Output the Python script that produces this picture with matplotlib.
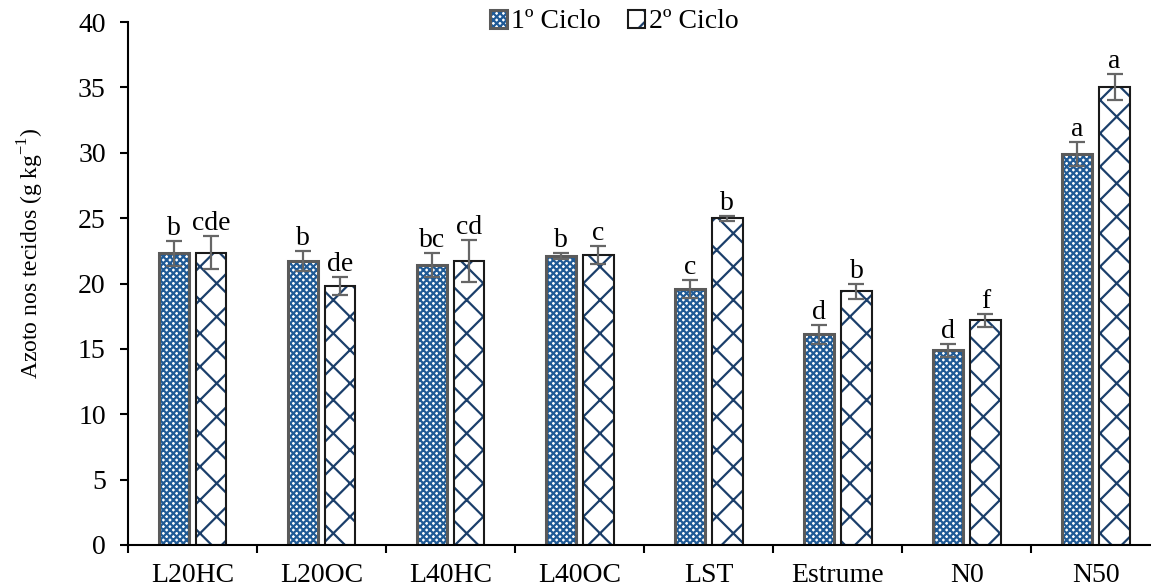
import numpy as np
import matplotlib.pyplot as plt
import matplotlib as mpl

# data
categories = ['L20HC', 'L20OC', 'L40HC', 'L40OC', 'LST', 'Estrume', 'N0', 'N50']
ciclo1 = [22.3, 21.7, 21.4, 22.1, 19.6, 16.1, 14.9, 29.9]
ciclo1_err = [0.95, 0.75, 0.9, 0.2, 0.7, 0.75, 0.5, 0.9]
ciclo2 = [22.35, 19.8, 21.7, 22.2, 25.0, 19.4, 17.2, 35.0]
ciclo2_err = [1.25, 0.7, 1.6, 0.7, 0.2, 0.6, 0.5, 1.0]
letras1 = ['b', 'b', 'bc', 'b', 'c', 'd', 'd', 'a']
letras2 = ['cde', 'de', 'cd', 'c', 'b', 'b', 'f', 'a']

plt.rcParams['font.family'] = ['Liberation Serif', 'DejaVu Serif']
plt.rcParams['mathtext.fontset'] = 'custom'
plt.rcParams['mathtext.rm'] = 'Liberation Serif'
plt.rcParams['hatch.linewidth'] = 1.6

fig = plt.figure(figsize=(11.51, 5.88), dpi=100)
ax = fig.add_axes([128/1151, 43/588, 1022/1151, 523/588])

x = np.arange(len(categories))
w = 0.235
off = 0.145

b1 = ax.bar(x - off, ciclo1, w, facecolor='white', edgecolor='#5a5a5a',
            linewidth=2.2, hatch='xxxxx', label='1º Ciclo', zorder=2)
for p in b1:
    p._hatch_color = mpl.colors.to_rgba('#1f5a96')
b2 = ax.bar(x + off, ciclo2, w, facecolor='white', edgecolor='#1a1a1a',
            linewidth=1.5, hatch='x', label='2º Ciclo', zorder=2)
for p in b2:
    p._hatch_color = mpl.colors.to_rgba('#1b3f6b')

ax.errorbar(x - off, ciclo1, yerr=ciclo1_err, fmt='none', ecolor='#666666',
            elinewidth=1.6, capsize=6, capthick=1.6, zorder=3)
ax.errorbar(x + off, ciclo2, yerr=ciclo2_err, fmt='none', ecolor='#666666',
            elinewidth=1.6, capsize=6, capthick=1.6, zorder=3)

for i in range(len(categories)):
    ax.annotate(letras1[i], (x[i] - off, ciclo1[i] + ciclo1_err[i]),
                xytext=(0, 0), textcoords='offset points', ha='center',
                va='bottom', fontsize=20)
    ax.annotate(letras2[i], (x[i] + off, ciclo2[i] + ciclo2_err[i]),
                xytext=(0, 0), textcoords='offset points', ha='center',
                va='bottom', fontsize=20)

ax.set_xlim(-0.5, 7.42)
ax.set_ylim(0, 40)
ax.set_yticks(np.arange(0, 41, 5))
ax.set_xticks(x)
ax.set_xticklabels(categories)
ax.set_xticks(np.arange(-0.5, 7.5, 1), minor=True)
ax.tick_params(axis='x', which='major', length=0, pad=13, labelsize=20)
ax.tick_params(axis='x', which='minor', length=6, width=1.5, direction='out')
ax.tick_params(axis='y', length=6, width=1.5, direction='out', labelsize=20, pad=10)

for s in ['top', 'right']:
    ax.spines[s].set_visible(False)
for s in ['left', 'bottom']:
    ax.spines[s].set_linewidth(1.5)

ax.set_ylabel(r'Azoto nos tecidos (g kg$^{\mathregular{-1}}$)', fontsize=17)
ax.yaxis.set_label_coords(-0.080, 0.558)

leg = ax.legend(loc='center', bbox_to_anchor=(0.476, 1.0), ncol=2, frameon=False,
                fontsize=20, handlelength=0.6, handleheight=0.6, handletextpad=0.15,
                columnspacing=1.0, borderpad=0)

fig.savefig('out.png', dpi=100)
